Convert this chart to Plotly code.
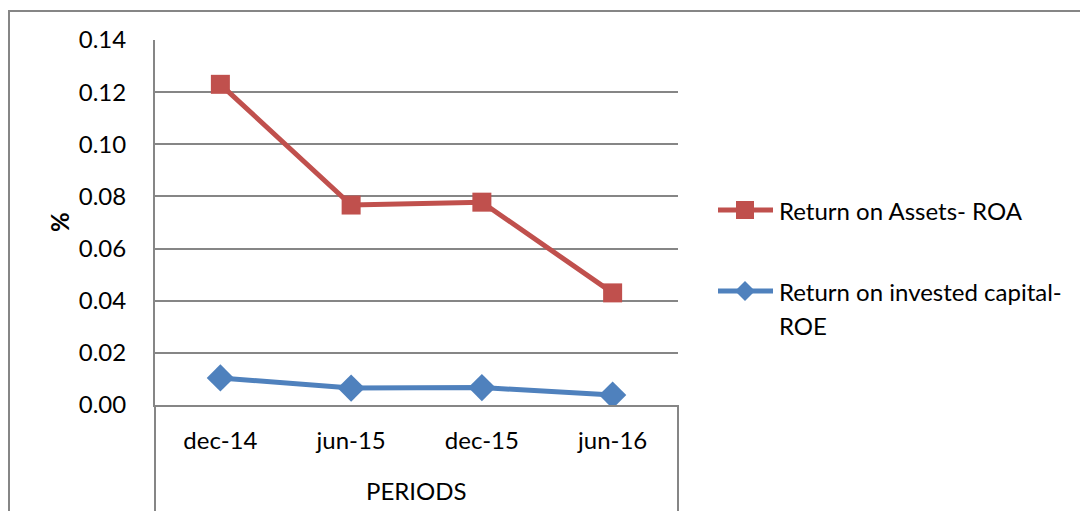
import plotly.graph_objects as go

# Periods and ratios
periods = ["dec-14", "jun-15", "dec-15", "jun-16"]
roa = [0.123, 0.0767, 0.0778, 0.043]
roe = [0.0104, 0.0065, 0.0067, 0.0038]
y_ticks = [0.00, 0.02, 0.04, 0.06, 0.08, 0.10, 0.12, 0.14]

RED = "#C0504D"
BLUE = "#4F81BD"
GRID = "#868686"
FONT = "Lato"
FS = 24

W, H = 1080, 511
L, R, T, B = 155, 678, 40, 405  # plot area in pixels


def px(x):
    return (x - L) / (R - L)


def py(y):
    return (B - y) / (B - T)


fig = go.Figure()
fig.add_trace(go.Scatter(
    x=periods, y=roa, mode="lines+markers", name="Return on Assets- ROA",
    line=dict(color=RED, width=5), marker=dict(symbol="square", size=19, color=RED),
    showlegend=False,
))
fig.add_trace(go.Scatter(
    x=periods, y=roe, mode="lines+markers", name="Return on invested capital-ROE",
    line=dict(color=BLUE, width=5), marker=dict(symbol="diamond", size=21, color=BLUE),
    showlegend=False,
))

shapes = [
    # outer chart border (left and top edges)
    dict(type="path", xref="paper", yref="paper",
         path=f"M {px(9)},{py(520)} L {px(9)},{py(11)} L {px(1090)},{py(11)}",
         line=dict(color=GRID, width=2)),
    # category box below the axis
    dict(type="line", xref="paper", yref="paper", x0=0, x1=0, y0=0, y1=py(520),
         line=dict(color=GRID, width=2)),
    dict(type="line", xref="paper", yref="paper", x0=1, x1=1, y0=0, y1=py(520),
         line=dict(color=GRID, width=2)),
]

# legend glyphs
leg_x0, leg_x1 = px(718), px(773)
for yc, color, kind in [(210, RED, "square"), (291, BLUE, "diamond")]:
    shapes.append(dict(type="line", xref="paper", yref="paper",
                       x0=leg_x0, x1=leg_x1, y0=py(yc), y1=py(yc),
                       line=dict(color=color, width=5)))
    if kind == "square":
        shapes.append(dict(type="rect", xref="paper", yref="paper",
                           x0=px(736), x1=px(754), y0=py(219), y1=py(201),
                           fillcolor=color, line=dict(width=0)))
    else:
        shapes.append(dict(type="path", xref="paper", yref="paper",
                           path=(f"M {px(745)},{py(yc - 10)} L {px(755)},{py(yc)} "
                                 f"L {px(745)},{py(yc + 10)} L {px(735)},{py(yc)} Z"),
                           fillcolor=color, line=dict(width=0)))

text_font = dict(family=FONT, size=FS, color="#000000")
annotations = [
    dict(text="Return on Assets- ROA", xref="paper", yref="paper",
         x=px(777), y=py(210), xanchor="left", yanchor="middle", showarrow=False,
         font=text_font),
    dict(text="Return on invested capital-", xref="paper", yref="paper",
         x=px(777), y=py(291), xanchor="left", yanchor="middle", showarrow=False,
         font=text_font),
    dict(text="ROE", xref="paper", yref="paper",
         x=px(777), y=py(325), xanchor="left", yanchor="middle", showarrow=False,
         font=text_font),
    dict(text="<b>%</b>", xref="paper", yref="paper", x=px(60), y=py(222),
         xanchor="center", yanchor="middle", textangle=-90, showarrow=False,
         font=text_font),
    dict(text="PERIODS", xref="paper", yref="paper", x=0.5, y=py(490),
         xanchor="center", yanchor="middle", showarrow=False,
         font=text_font),
]

fig.update_layout(
    width=W, height=H,
    margin=dict(l=L, r=W - R, t=T, b=H - B, pad=0),
    paper_bgcolor="white", plot_bgcolor="white",
    font=text_font,
    shapes=shapes, annotations=annotations,
    xaxis=dict(
        type="category", range=[-0.5, 3.5], showgrid=False, zeroline=False,
        showline=True, linecolor=GRID, linewidth=2,
        ticks="outside", ticklen=13, tickcolor="rgba(0,0,0,0)",
        tickfont=text_font,
    ),
    yaxis=dict(
        range=[0, 0.14], tickvals=y_ticks, tickformat=".2f",
        showgrid=True, gridcolor=GRID, gridwidth=2, zeroline=False,
        showline=True, linecolor=GRID, linewidth=2,
        ticks="outside", ticklen=22, tickcolor="rgba(0,0,0,0)",
        tickfont=text_font,
    ),
)

fig.write_html("out.html")
